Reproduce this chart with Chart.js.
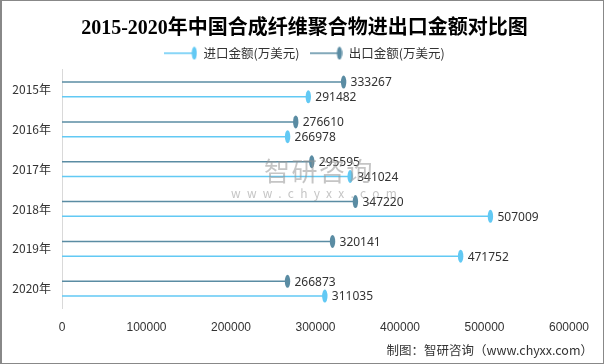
<!DOCTYPE html>
<html>
<head>
<meta charset="utf-8">
<script src="https://cdn.jsdelivr.net/npm/chart.js@4"></script>
<style>
  html, body { margin: 0; padding: 0; background: #fff; }
  #wrap {
    position: relative; width: 601px; height: 362px;
    border: 1px solid #888; border-left: 2px solid #888; background: #fff;
  }
  #source {
    position: absolute; right: 10px; top: 339px;
    font: 12.5px "Noto Sans CJK SC", sans-serif; color: #333;
  }
  .wm {
    position: absolute; color: rgba(150, 150, 150, 0.55);
    font-family: "Noto Sans CJK SC", sans-serif; white-space: nowrap; pointer-events: none;
  }
  #wm1 { left: 262px; top: 151px; font-size: 26px; line-height: 36px; letter-spacing: 1.5px; }
  #wm2 { left: 229px; top: 184px; font-size: 12px; line-height: 16px; letter-spacing: 6.3px; }
</style>
</head>
<body>
<div id="wrap">
  <canvas id="chart" width="601" height="362"></canvas>
  <div class="wm" id="wm1">智研咨询</div>
  <div class="wm" id="wm2">www.chyxx.com</div>
  <div id="source">制图：智研咨询（www.chyxx.com）</div>
</div>
<script>
// 数据
const years = ['2015年', '2016年', '2017年', '2018年', '2019年', '2020年'];
const importValues = [291482, 266978, 341024, 507009, 471752, 311035];
const exportValues = [333267, 276610, 295595, 347220, 320141, 266873];
const importLabel = '进口金额(万美元)';
const exportLabel = '出口金额(万美元)';

const importColor = '#62c9f4';
const exportColor = '#5a8ca3';

// 图例用的小图标：横线 + 椭圆
function legendIcon(color) {
    const c = document.createElement('canvas');
    c.width = 33; c.height = 14;
    const g = c.getContext('2d');
    g.strokeStyle = color; g.lineWidth = 1.5;
    g.beginPath(); g.moveTo(0, 7); g.lineTo(30, 7); g.stroke();
    g.fillStyle = color;
    g.beginPath(); g.ellipse(30, 7, 2.6, 6.5, 0, 0, Math.PI * 2); g.fill();
    return c;
}

// 在每根线的末端画椭圆和数值
const lollipopPlugin = {
    id: 'lollipop',
    afterDatasetsDraw(chart) {
        const ctx = chart.ctx;
        ctx.save();
        chart.data.datasets.forEach((ds, i) => {
            const meta = chart.getDatasetMeta(i);
            meta.data.forEach((el, j) => {
                ctx.fillStyle = ds.borderColor;
                ctx.beginPath();
                ctx.ellipse(el.x, el.y, 2.7, 6.5, 0, 0, Math.PI * 2);
                ctx.fill();
                ctx.fillStyle = '#333';
                ctx.font = '12px "Noto Sans", "DejaVu Sans", sans-serif';
                ctx.textBaseline = 'middle';
                ctx.textAlign = 'left';
                ctx.fillText(String(ds.data[j]), el.x + 7, el.y + 1);
            });
        });
        ctx.restore();
    }
};

const ctx = document.getElementById('chart').getContext('2d');
new Chart(ctx, {
    type: 'bar',
    data: {
        labels: years,
        datasets: [
            {
                label: exportLabel,
                data: exportValues,
                backgroundColor: exportColor,
                borderColor: exportColor,
                pointStyle: legendIcon(exportColor)
            },
            {
                label: importLabel,
                data: importValues,
                backgroundColor: importColor,
                borderColor: importColor,
                pointStyle: legendIcon(importColor)
            }
        ]
    },
    options: {
        indexAxis: 'y',
        responsive: false,
        animation: false,
        categoryPercentage: 0.74,
        barPercentage: 0.1,
        layout: { padding: { left: 4, right: 0, top: 0, bottom: 16 } },
        plugins: {
            title: {
                display: true,
                text: '2015-2020年中国合成纤维聚合物进出口金额对比图',
                color: '#000',
                font: { size: 20, weight: 'bold', family: '"Liberation Serif", "Noto Sans CJK SC", serif' },
                padding: { top: 16, bottom: -4 }
            },
            legend: {
                reverse: true,
                labels: {
                    usePointStyle: true,
                    pointStyleWidth: 33,
                    color: '#333',
                    font: { size: 12.5, family: '"Noto Sans CJK SC", sans-serif' },
                    padding: 10
                }
            },
            tooltip: { enabled: false }
        },
        scales: {
            x: {
                min: 0,
                max: 600000,
                ticks: {
                    stepSize: 100000, color: '#333', font: { size: 12 }, padding: 12,
                    callback: v => String(v)
                },
                grid: { display: false, drawTicks: false },
                border: { display: false },
                // 右侧留白，和原图一致
                afterFit: scale => { scale.paddingRight = 34; }
            },
            y: {
                ticks: { color: '#333', font: { size: 12, family: '"Noto Sans CJK SC", sans-serif' }, padding: 11 },
                grid: { display: false, drawTicks: false },
                border: { display: true, color: '#d9d9d9' },
                afterFit: scale => { scale.width = 56; }
            }
        }
    },
    plugins: [lollipopPlugin]
});
</script>
</body>
</html>
